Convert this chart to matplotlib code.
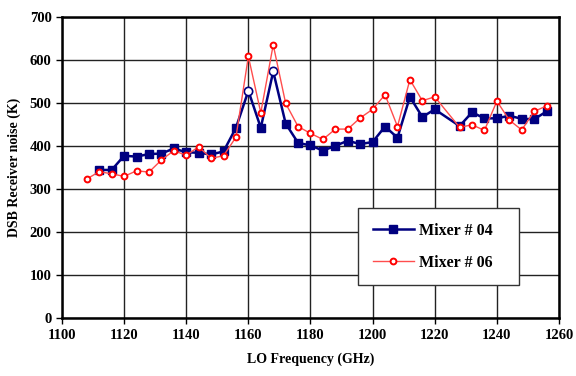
import numpy as np
import matplotlib.pyplot as plt

plt.rcParams['font.family'] = ['Liberation Serif', 'DejaVu Serif']

# Mixer # 04
freq_04 = [1112, 1116, 1120, 1124, 1128, 1132, 1136, 1140, 1144, 1148, 1152, 1156,
           1160, 1164, 1168, 1172, 1176, 1180, 1184, 1188, 1192, 1196, 1200, 1204,
           1208, 1212, 1216, 1220, 1228, 1232, 1236, 1240, 1244, 1248, 1252, 1256]
noise_04 = [345, 345, 378, 376, 382, 383, 395, 386, 385, 381, 388, 443,
            529, 443, 574, 453, 408, 402, 390, 401, 413, 405, 410, 446,
            420, 515, 468, 486, 447, 479, 465, 465, 471, 464, 463, 481]
open_04 = [1160, 1168]   # points drawn as open circles

# Mixer # 06
freq_06 = [1108, 1112, 1116, 1120, 1124, 1128, 1132, 1136, 1140, 1144, 1148, 1152,
           1156, 1160, 1164, 1168, 1172, 1176, 1180, 1184, 1188, 1192, 1196, 1200,
           1204, 1208, 1212, 1216, 1220, 1228, 1232, 1236, 1240, 1244, 1248, 1252, 1256]
noise_06 = [324, 341, 336, 330, 343, 340, 368, 390, 379, 399, 372, 378,
            421, 609, 478, 636, 500, 446, 430, 416, 440, 440, 466, 486,
            520, 446, 555, 506, 515, 444, 450, 437, 505, 461, 438, 481, 494]

fig = plt.figure(figsize=(5.76, 3.76), dpi=100)
ax = fig.add_axes([0.1076, 0.1535, 0.8629, 0.8005])

f04 = np.array(freq_04)
n04 = np.array(noise_04)
is_open = np.isin(f04, open_04)

ax.plot(f04, n04, color='#000080', lw=1.8, zorder=3)
ax.plot(f04[~is_open], n04[~is_open], ls='none', marker='s', ms=5.5,
        color='#000080', zorder=4)
ax.plot(f04[is_open], n04[is_open], ls='none', marker='o', ms=6,
        mfc='white', mec='#000080', mew=1.2, zorder=4)
ax.plot([], [], color='#000080', lw=1.8, marker='s', ms=5.5, label='Mixer # 04')

ax.plot(freq_06, noise_06, color='#ff4d4d', lw=1.0, marker='o', ms=4.2,
        mfc='white', mec='red', mew=1.4, label='Mixer # 06', zorder=5)

ax.set_xlim(1100, 1260)
ax.set_ylim(0, 700)
ax.set_xticks(np.arange(1100, 1261, 20))
ax.set_yticks(np.arange(0, 701, 100))
ax.grid(True, color='#222222', lw=1.0)
ax.set_axisbelow(True)
for s in ax.spines.values():
    s.set_linewidth(1.8)
ax.tick_params(direction='out', length=4, width=1, labelsize=10.5)
for t in ax.get_xticklabels() + ax.get_yticklabels():
    t.set_fontweight('bold')

ax.set_xlabel('LO Frequency (GHz)', fontsize=10, fontweight='bold', labelpad=8)
ax.set_ylabel('DSB Receiver noise (K)', fontsize=10, fontweight='bold', labelpad=6)

leg = ax.legend(loc='lower left', bbox_to_anchor=(0.596, 0.11, 0.324, 0.213),
                mode='expand', fancybox=False, framealpha=1, edgecolor='#333333',
                borderpad=0.9, labelspacing=1.0, handlelength=2.6,
                handletextpad=0.3, borderaxespad=0,
                prop={'weight': 'bold', 'size': 11.5})
leg.get_frame().set_linewidth(1.0)

fig.savefig('out.png', dpi=100)
